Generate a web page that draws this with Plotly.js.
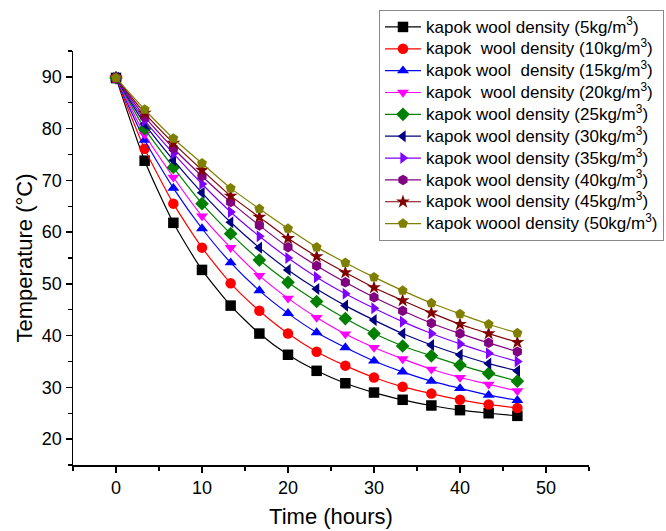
<!DOCTYPE html>
<html>
<head>
<meta charset="utf-8">
<script src="https://cdn.plot.ly/plotly-3.0.1.min.js"></script>
<style>html,body{margin:0;padding:0;background:#fff;}#chart{width:666px;height:531px;}</style>
</head>
<body>
<div id="chart"></div>
<script>
const timeHours = [0, 3.33, 6.67, 10, 13.33, 16.67, 20, 23.33, 26.67, 30, 33.33, 36.67, 40, 43.33, 46.67];

const d5  = [89.8, 73.8, 61.8, 52.7, 45.8, 40.4, 36.3, 33.2, 30.8, 29.0, 27.6, 26.5, 25.6, 25.0, 24.5];
const d10 = [89.8, 76.1, 65.5, 57.0, 50.1, 44.8, 40.4, 36.9, 34.2, 31.9, 30.1, 28.8, 27.6, 26.7, 26.0];
const d15 = [89.8, 77.8, 68.5, 60.7, 54.1, 48.7, 44.3, 40.6, 37.7, 35.1, 33.0, 31.2, 29.8, 28.5, 27.5];
const d20 = [89.8, 78.9, 70.6, 63.1, 57.0, 51.6, 47.2, 43.5, 40.3, 37.7, 35.5, 33.5, 31.9, 30.6, 29.3];
const d25 = [89.8, 80.0, 72.5, 65.5, 59.7, 54.6, 50.3, 46.6, 43.3, 40.4, 38.0, 36.1, 34.3, 32.7, 31.2];
const d30 = [89.8, 80.9, 73.9, 67.6, 61.9, 57.0, 52.7, 49.0, 45.8, 43.0, 40.4, 38.2, 36.3, 34.6, 33.2];
const d35 = [89.8, 81.6, 75.2, 69.3, 63.9, 59.2, 55.0, 51.3, 48.1, 45.3, 42.7, 40.4, 38.4, 36.6, 35.0];
const d40 = [89.8, 82.3, 76.2, 70.8, 65.8, 61.3, 57.1, 53.5, 50.3, 47.4, 44.8, 42.4, 40.4, 38.6, 36.9];
const d45 = [89.8, 83.0, 77.2, 72.0, 67.0, 62.9, 58.8, 55.3, 52.2, 49.3, 46.8, 44.4, 42.2, 40.4, 38.7];
const d50 = [89.8, 83.7, 78.1, 73.3, 68.5, 64.5, 60.7, 57.1, 54.1, 51.3, 48.7, 46.3, 44.2, 42.2, 40.5];

const seriesNames = [
  "kapok wool density (5kg/m<sup>3</sup>)",
  "kapok\u00A0 wool density (10kg/m<sup>3</sup>)",
  "kapok wool\u00A0 density (15kg/m<sup>3</sup>)",
  "kapok\u00A0 wool density (20kg/m<sup>3</sup>)",
  "kapok wool density (25kg/m<sup>3</sup>)",
  "kapok wool density (30kg/m<sup>3</sup>)",
  "kapok wool density (35kg/m<sup>3</sup>)",
  "kapok wool density (40kg/m<sup>3</sup>)",
  "kapok wool density (45kg/m<sup>3</sup>)",
  "kapok woool density (50kg/m<sup>3</sup>)"
];
const seriesValues = [d5, d10, d15, d20, d25, d30, d35, d40, d45, d50];
const colors = ["#000000", "#FF0000", "#0000FF", "#FF00FF", "#008000", "#000080", "#8000FF", "#800080", "#800000", "#808000"];
const symbols = ["square", "circle", "triangle-up", "triangle-down", "diamond", "triangle-left", "triangle-right", "hexagon", "star", "pentagon"];

const traces = seriesValues.map((ys, i) => ({
  x: timeHours,
  y: ys,
  type: "scatter",
  mode: "lines+markers",
  name: '<span style="font-size:17px">' + seriesNames[i] + '</span>',
  line: {color: colors[i], width: 1.2, shape: "spline", smoothing: 0.6},
  marker: {color: colors[i], symbol: symbols[i], size: 10.5, line: {width: 0}}
}));

const FONT = "Liberation Sans, Arial, sans-serif";
const tickFont = {family: FONT, size: 18, color: "#000"};
const titleFont = {family: FONT, size: 22, color: "#000"};

const layout = {
  width: 666, height: 531,
  margin: {l: 73, r: 77, t: 51, b: 66, autoexpand: false},
  paper_bgcolor: "#fff", plot_bgcolor: "#fff",
  showlegend: true,
  legend: {
    x: 1.1453, y: 1.099, xanchor: "right", yanchor: "top",
    bgcolor: "#fff", bordercolor: "#888", borderwidth: 1,
    font: {family: FONT, size: 14.5, color: "#000"},
    tracegroupgap: 0, itemwidth: 36
  },
  xaxis: {
    range: [-5, 55], showgrid: false, zeroline: false,
    showline: true, linecolor: "#000", linewidth: 1.5,
    ticks: "outside", ticklen: 6, tickwidth: 1.5, tickcolor: "#000",
    dtick: 10, tick0: 0, tickfont: tickFont,
    minor: {dtick: 5, ticks: "outside", ticklen: 4, tickwidth: 1.2, tickcolor: "#000", showgrid: false},
    title: {text: "Time (hours)", font: titleFont, standoff: 11}
  },
  yaxis: {
    range: [15, 95], showgrid: false, zeroline: false,
    showline: true, linecolor: "#000", linewidth: 1.5,
    ticks: "outside", ticklen: 6, tickwidth: 1.5, tickcolor: "#000",
    dtick: 10, tick0: 0, tickfont: tickFont,
    minor: {dtick: 5, ticks: "outside", ticklen: 4, tickwidth: 1.2, tickcolor: "#000", showgrid: false},
    title: {text: "Temperature (°C)", font: titleFont, standoff: 3}
  }
};

Plotly.newPlot("chart", traces, layout, {displayModeBar: false, staticPlot: true});
</script>
</body>
</html>
